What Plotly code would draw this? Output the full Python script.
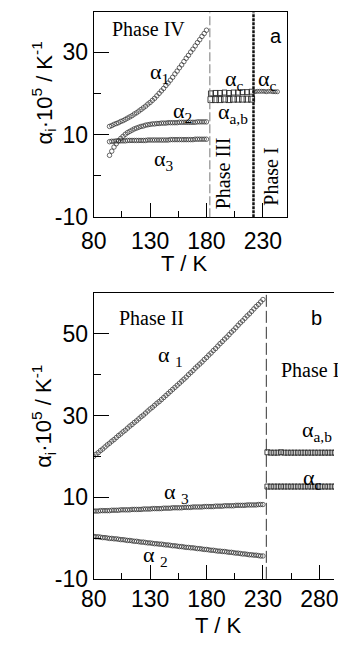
import plotly.graph_objects as go

# ---------------- Panel a data ----------------
T_IV = [94, 96, 98, 100, 102, 104, 106, 108, 110, 112,
        114, 116, 118, 120, 122, 124, 126, 128, 130, 132,
        134, 136, 138, 140, 142, 144, 146, 148, 150, 152,
        154, 156, 158, 160, 162, 164, 166, 168, 170, 172,
        174, 176, 178, 180]
a_alpha1 = [12.0, 12.2, 12.5, 12.7, 12.9, 13.2, 13.4, 13.7, 14.0, 14.3,
            14.6, 15.0, 15.3, 15.7, 16.1, 16.5, 16.9, 17.4, 17.8, 18.3,
            18.8, 19.4, 20.0, 20.6, 21.2, 21.9, 22.5, 23.2, 23.9, 24.7,
            25.4, 26.2, 26.9, 27.7, 28.5, 29.2, 30.0, 30.7, 31.5, 32.3,
            33.0, 33.8, 34.5, 35.3]
a_alpha2 = [5.0, 6.0, 7.0, 7.8, 8.5, 9.1, 9.6, 10.1, 10.5, 10.8,
            11.1, 11.4, 11.6, 11.8, 12.0, 12.1, 12.3, 12.4, 12.5, 12.6,
            12.6, 12.7, 12.7, 12.8, 12.8, 12.8, 12.9, 12.9, 12.9, 12.9,
            12.9, 13.0, 13.0, 13.0, 13.0, 13.0, 13.0, 13.0, 13.0, 13.1,
            13.1, 13.1, 13.1, 13.1]
a_alpha3 = [8.3, 8.4, 8.4, 8.5, 8.5, 8.5, 8.5, 8.5, 8.6, 8.6,
            8.6, 8.6, 8.6, 8.6, 8.6, 8.6, 8.6, 8.7, 8.7, 8.7,
            8.7, 8.7, 8.7, 8.7, 8.7, 8.7, 8.7, 8.8, 8.8, 8.8,
            8.8, 8.8, 8.8, 8.8, 8.8, 8.8, 8.8, 8.8, 8.9, 8.9,
            8.9, 8.9, 8.9, 8.9]

T_III = [184, 188, 192, 196, 200, 204, 208, 212, 216, 220]
a_III_alpha_c = [20.0, 20.1, 20.1, 20.2, 20.1, 20.2, 20.2, 20.3, 20.3, 20.4]
a_III_alpha_ab = [18.5, 18.5, 18.5, 18.6, 18.5, 18.6, 18.6, 18.6, 18.6, 18.6]

T_I_a = [223, 225, 227, 229, 231, 233, 235, 237, 239, 241, 243]
a_I_alpha_c = [20.4, 20.5, 20.5, 20.5, 20.5, 20.4, 20.5, 20.5, 20.4, 20.4, 20.4]

a_transitions = [183, 221.7]

# ---------------- Panel b data ----------------
T_II = [80, 82, 84, 86, 88, 90, 92, 94, 96, 98,
        100, 102, 104, 106, 108, 110, 112, 114, 116, 118,
        120, 122, 124, 126, 128, 130, 132, 134, 136, 138,
        140, 142, 144, 146, 148, 150, 152, 154, 156, 158,
        160, 162, 164, 166, 168, 170, 172, 174, 176, 178,
        180, 182, 184, 186, 188, 190, 192, 194, 196, 198,
        200, 202, 204, 206, 208, 210, 212, 214, 216, 218,
        220, 222, 224, 226, 228, 230]
b_alpha1 = [20.0, 20.5, 20.9, 21.4, 21.8, 22.3, 22.8, 23.2, 23.7, 24.1,
            24.6, 25.1, 25.5, 26.0, 26.4, 26.9, 27.4, 27.8, 28.3, 28.7,
            29.2, 29.7, 30.1, 30.6, 31.1, 31.6, 32.0, 32.5, 33.0, 33.4,
            33.9, 34.4, 34.9, 35.4, 35.9, 36.4, 36.9, 37.4, 37.9, 38.4,
            38.9, 39.4, 40.0, 40.5, 41.0, 41.6, 42.1, 42.6, 43.1, 43.7,
            44.2, 44.8, 45.3, 45.9, 46.4, 47.0, 47.6, 48.1, 48.7, 49.2,
            49.8, 50.4, 50.9, 51.5, 52.1, 52.7, 53.2, 53.8, 54.4, 54.9,
            55.5, 56.1, 56.7, 57.2, 57.8, 58.4]
b_alpha3 = [6.6, 6.6, 6.6, 6.7, 6.7, 6.7, 6.7, 6.7, 6.8, 6.8,
            6.8, 6.8, 6.9, 6.9, 6.9, 6.9, 6.9, 7.0, 7.0, 7.0,
            7.0, 7.0, 7.1, 7.1, 7.1, 7.1, 7.2, 7.2, 7.2, 7.2,
            7.2, 7.3, 7.3, 7.3, 7.3, 7.4, 7.4, 7.4, 7.4, 7.4,
            7.5, 7.5, 7.5, 7.5, 7.6, 7.6, 7.6, 7.6, 7.6, 7.7,
            7.7, 7.7, 7.7, 7.7, 7.8, 7.8, 7.8, 7.8, 7.9, 7.9,
            7.9, 7.9, 7.9, 8.0, 8.0, 8.0, 8.0, 8.0, 8.1, 8.1,
            8.1, 8.1, 8.1, 8.2, 8.2, 8.2]
b_alpha2 = [0.4, 0.3, 0.3, 0.2, 0.1, 0.1, 0.0, -0.1, -0.1, -0.2,
            -0.2, -0.3, -0.4, -0.4, -0.5, -0.6, -0.6, -0.7, -0.8, -0.8,
            -0.9, -1.0, -1.0, -1.1, -1.2, -1.2, -1.3, -1.4, -1.4, -1.5,
            -1.5, -1.6, -1.7, -1.7, -1.8, -1.9, -1.9, -2.0, -2.1, -2.1,
            -2.2, -2.3, -2.3, -2.4, -2.4, -2.5, -2.6, -2.6, -2.7, -2.8,
            -2.8, -2.9, -3.0, -3.0, -3.1, -3.2, -3.2, -3.3, -3.3, -3.4,
            -3.5, -3.5, -3.6, -3.7, -3.7, -3.8, -3.9, -3.9, -4.0, -4.1,
            -4.1, -4.2, -4.2, -4.3, -4.4, -4.4]

T_I_b = [234, 237, 240, 243, 246, 249, 252, 255, 258, 261,
         264, 267, 270, 273, 276, 279, 282, 285, 288, 291, 294]
b_I_alpha_ab = [21.0, 20.9, 20.9, 20.9, 21.0, 20.9, 20.9, 20.9, 20.9, 20.9,
                20.9, 20.9, 20.9, 20.9, 20.9, 20.9, 20.9, 20.9, 20.9, 20.9, 20.9]
b_I_alpha_c = [12.6, 12.6, 12.6, 12.6, 12.6, 12.6, 12.6, 12.6, 12.6, 12.6,
               12.6, 12.6, 12.6, 12.6, 12.6, 12.6, 12.6, 12.6, 12.6, 12.6, 12.6]

b_transition = 233

# tick labels
x_ticks_a = [80, 130, 180, 230]
x_ticks_b = [80, 130, 180, 230, 280]
y_ticks_a = [-10, 10, 30]
y_ticks_b = [-10, 10, 30, 50]
y_text_a = ["-10", "10", "30"]
y_text_b = ["-10", "10", "30", "50"]

# ---------------- figure ----------------
W, H = 338, 648
SANS = "Liberation Sans"
SERIF = "Liberation Serif"
INK = "#2a2a2a"


def px_x(x):
    return x / W


def px_y(y):
    return 1 - y / H


fig = go.Figure()


def circles(x, y, xa, ya, size=4.5):
    fig.add_trace(go.Scatter(
        x=x, y=y, mode="markers", xaxis=xa, yaxis=ya, showlegend=False,
        marker=dict(symbol="circle-open", size=size, color=INK,
                    line=dict(width=0.7, color=INK))))


def squares(x, y, xa, ya, size=5):
    fig.add_trace(go.Scatter(
        x=x, y=y, mode="markers", xaxis=xa, yaxis=ya, showlegend=False,
        marker=dict(symbol="square-open", size=size, color=INK,
                    line=dict(width=0.9, color=INK))))


circles(T_IV, a_alpha1, "x", "y")
circles(T_IV, a_alpha2, "x", "y")
circles(T_IV, a_alpha3, "x", "y")
squares(T_III, a_III_alpha_c, "x", "y", 5)
squares(T_III, a_III_alpha_ab, "x", "y", 6)
circles(T_I_a, a_I_alpha_c, "x", "y", 4)

circles(T_II, b_alpha1, "x2", "y2")
circles(T_II, b_alpha3, "x2", "y2")
circles(T_II, b_alpha2, "x2", "y2")
squares(T_I_b, b_I_alpha_ab, "x2", "y2", 5)
squares(T_I_b, b_I_alpha_c, "x2", "y2", 5)

axis_common = dict(
    showgrid=False, zeroline=False, showline=True, linecolor="black",
    linewidth=1, ticks="inside", tickcolor="black", tickwidth=1,
    tickfont=dict(family=SANS, size=23, color="black"),
    ticklabeloverflow="allow",
)
x_minor = dict(ticks="inside", ticklen=6, dtick=25, tick0=80,
               tickcolor="black", showgrid=False)
y_minor = dict(ticks="inside", ticklen=7, dtick=10, tick0=-10,
               tickcolor="black", showgrid=False)

fig.update_layout(
    width=W, height=H, margin=dict(l=0, r=0, t=0, b=0),
    paper_bgcolor="white", plot_bgcolor="white", showlegend=False,
    xaxis=dict(axis_common, domain=[px_x(85), px_x(288)], range=[80, 251],
               anchor="y", mirror=True, tickmode="array", tickvals=x_ticks_a,
               ticklen=14, ticklabelstandoff=3, minor=x_minor),
    yaxis=dict(axis_common, domain=[px_y(221.7), px_y(12.7)], range=[-10, 39.6],
               anchor="x", mirror=True, tickmode="array", tickvals=y_ticks_a,
               ticktext=y_text_a, ticklen=15, minor=y_minor),
    xaxis2=dict(axis_common, domain=[px_x(85), 1.0], range=[80, 293],
                anchor="y2", mirror=True, tickmode="array", tickvals=x_ticks_b,
                ticklen=14, minor=x_minor),
    yaxis2=dict(axis_common, domain=[px_y(590.7), px_y(299)], range=[-10, 60],
                anchor="x2", mirror=False, tickmode="array", tickvals=y_ticks_b,
                ticktext=y_text_b, ticklen=15, minor=y_minor),
)

# phase transition lines
fig.add_shape(type="line", xref="x", yref="y domain", x0=a_transitions[0],
              x1=a_transitions[0], y0=0, y1=1,
              line=dict(color="#777777", width=1, dash="9px,3px"))
fig.add_shape(type="line", xref="x", yref="y domain", x0=a_transitions[1],
              x1=a_transitions[1], y0=0, y1=1,
              line=dict(color="#111111", width=2.5, dash="3px,1px"))
fig.add_shape(type="line", xref="x2", yref="y2 domain", x0=b_transition,
              x1=b_transition, y0=0, y1=1,
              line=dict(color="#333333", width=1, dash="12px,4px"))


def label(text, x, y, size=20, family=SERIF, angle=0, xanchor="center"):
    fig.add_annotation(text=text, x=px_x(x), y=px_y(y), xref="paper",
                       yref="paper", showarrow=False, xanchor=xanchor,
                       yanchor="middle", textangle=angle,
                       font=dict(family=family, size=size, color="black"))


# panel a labels
label("Phase IV", 143, 30)
label("a", 277, 37, size=20, family=SANS)
label("α<sub>1</sub>", 154, 74, size=22)
label("α<sub>2</sub>", 179, 114, size=22)
label("α<sub>3</sub>", 159, 163, size=22)
label("α<sub>c</sub>", 233, 82, size=22)
label("α<sub>c</sub>", 268, 82, size=22)
label("α<sub>a,b</sub>", 232, 115, size=22)
label("Phase III", 222, 177, angle=-90)
label("Phase I", 272, 180, angle=-90)

# panel b labels
label("Phase II", 146, 325)
label("b", 320, 324, size=20, family=SANS)
label("Phase I", 280, 378, xanchor="left")
label("α <sub>1</sub>", 166, 363, size=22)
label("α <sub>3</sub>", 172, 503, size=22)
label("α <sub>2</sub>", 150, 567, size=22)
label("α<sub>a,b</sub>", 302, 440, size=22, xanchor="left")
label("α<sub>c</sub>", 303, 489, size=22, xanchor="left")

# axis titles
ytitle = "α<sub>i</sub>·10<sup>5</sup> / K<sup>-1</sup>"
label(ytitle, 32, 95, size=22, family=SANS, angle=-90)
label(ytitle, 32, 425, size=22, family=SANS, angle=-90)
label("T / K", 180, 269, size=22, family=SANS)
label("T / K", 216, 638, size=22, family=SANS)

fig.write_html("out.html")
